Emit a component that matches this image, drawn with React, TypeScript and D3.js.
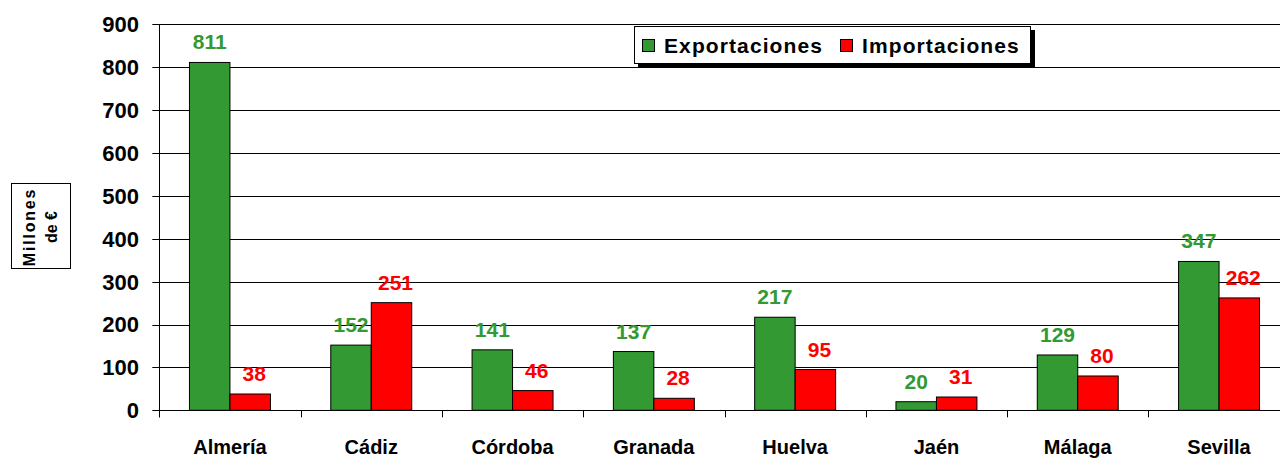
import React from "react";
import * as d3 from "d3";

const categories = ["Almería", "Cádiz", "Córdoba", "Granada", "Huelva", "Jaén", "Málaga", "Sevilla"];
const seriesNames = ["Exportaciones", "Importaciones"];
const exportaciones = [811, 152, 141, 137, 217, 20, 129, 347];
const importaciones = [38, 251, 46, 28, 95, 31, 80, 262];
const yTicks = [0, 100, 200, 300, 400, 500, 600, 700, 800, 900];
const colors = ["#339933", "#FF0000"];

const W = 1280;
const H = 459;
const FONT = "'Liberation Sans', Arial, sans-serif";

export default function App() {
  const left = 159.3;
  const step = 141.3;
  const right = left + step * categories.length;
  const top = 24.3;
  const bottom = 410.3;

  const x0 = d3.scaleBand<string>().domain(categories).range([left, right]).paddingInner(0.427).paddingOuter(0.2135);
  const x1 = d3.scaleBand<string>().domain(seriesNames).range([0, x0.bandwidth()]);
  const y = d3.scaleLinear().domain([0, 900]).range([bottom, top]);
  const series = [exportaciones, importaciones];
  const py = (v: number) => Math.round(y(v)) + 0.5;

  return (
    <svg width={W} height={H} style={{ position: "absolute", left: 0, top: 0, background: "#fff" }} fontFamily={FONT} fontWeight="bold">
      <rect x={0} y={0} width={W} height={H} fill="#fff" />
      {/* gridlines and y ticks */}
      {yTicks.map((t) => (
        <g key={t}>
          {t > 0 && <line x1={left} x2={W} y1={py(t)} y2={py(t)} stroke="#000" strokeWidth={1} />}
          <line x1={left - 7} x2={left} y1={py(t)} y2={py(t)} stroke="#000" strokeWidth={1} />
          <text x={139} y={y(t)} dy="0.36em" textAnchor="end" fontSize={22} fill="#000">{t}</text>
        </g>
      ))}
      {/* bars */}
      {categories.map((c, i) => (
        <g key={c} transform={`translate(${x0(c)},0)`}>
          {seriesNames.map((s, j) => {
            const v = series[j][i];
            const bx = x1(s)!;
            return (
              <g key={s}>
                <rect x={bx} y={y(v)} width={x1.bandwidth()} height={bottom - y(v)} fill={colors[j]} stroke="#000" strokeWidth={1} />
                <text x={bx + x1.bandwidth() / 2 + (j === 1 ? 4 : 0)} y={y(v) - 13} textAnchor="middle" fontSize={21} fill={colors[j]}>{v}</text>
              </g>
            );
          })}
        </g>
      ))}
      {/* axes */}
      <line x1={Math.round(left) + 0.5} x2={Math.round(left) + 0.5} y1={top} y2={bottom + 7} stroke="#000" />
      <line x1={left} x2={W} y1={py(0)} y2={py(0)} stroke="#000" />
      {categories.map((c, i) => (
        <line key={c} x1={Math.round(left + step * i) + 0.5} x2={Math.round(left + step * i) + 0.5} y1={bottom} y2={bottom + 7} stroke="#000" />
      ))}
      {categories.map((c) => (
        <text key={c} x={x0(c)! + x0.bandwidth() / 2} y={454} textAnchor="middle" fontSize={20} fill="#000">{c}</text>
      ))}
      {/* y axis title */}
      <rect x={11.5} y={183.5} width={59} height={85} fill="#fff" stroke="#000" />
      <text transform={`rotate(-90)`} textAnchor="middle" fontSize={16} fill="#000">
        <tspan x={-227} y={34.5} letterSpacing={1.8}>Millones</tspan>
        <tspan x={-227} y={57}>de €</tspan>
      </text>
      {/* legend */}
      <rect x={638} y={30} width={397} height={38} fill="#000" />
      <rect x={634.5} y={26.5} width={396} height={37} fill="#fff" stroke="#000" />
      {seriesNames.map((s, j) => {
        const lx = j === 0 ? 642 : 840;
        return (
          <g key={s}>
            <rect x={lx + 0.5} y={39.5} width={12} height={12} fill={colors[j]} stroke="#000" />
            <text x={lx + 22} y={53} fontSize={21} letterSpacing={1.1} fill="#000">{s}</text>
          </g>
        );
      })}
    </svg>
  );
}
